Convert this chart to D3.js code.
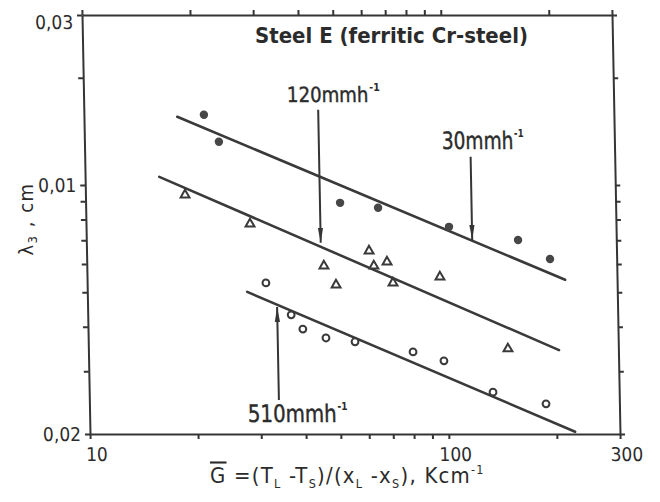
<!DOCTYPE html>
<html>
<head>
<meta charset="UTF-8">
<style>
  body { margin: 0; background: #ffffff; }
  svg { display: block; }
  text { font-family: "DejaVu Sans Condensed", "Liberation Sans Narrow", "DejaVu Sans", sans-serif; fill: #2b2b2b; }
  .axis path, .axis line { stroke: #353535; stroke-width: 2; }
  .fit { fill: none; stroke: #3a3a3a; stroke-width: 2.6; stroke-linecap: round; }
</style>
<title>Steel E lambda3 vs G</title>
</head>
<body>
<svg width="660" height="502"></svg>
<script src="https://cdn.jsdelivr.net/npm/d3@7/dist/d3.min.js"></script>
<script>

// tick values and labels (labels as printed)
let xTickVals = [10, 100, 300];
let xTickLabels = ["10", "100", "300"];
let xMinor = [20, 30, 40, 50, 60, 70, 80, 90, 200];
let yTickVals = [0.03, 0.01, 0.002];
let yTickLabels = ["0,03", "0,01", "0,02"];
let yMinor = [0.02, 0.009, 0.008, 0.007, 0.006, 0.005, 0.004, 0.003];

// 30 mm/h - filled circles
let g30 = [21.6, 23.7, 51.2, 65.3, 102.7, 159.7, 195.6];
let l30 = [0.01574, 0.01322, 0.00891, 0.00863, 0.00763, 0.00701, 0.00620];
// 120 mm/h - triangles
let g120 = [18.95, 28.65, 45.8, 49.4, 61.3, 63.1, 68.7, 71.2, 96.3, 147.7];
let l120 = [0.00938, 0.00778, 0.00593, 0.00524, 0.00653, 0.00593, 0.00608, 0.00531, 0.00552, 0.00347];
// 510 mm/h - open circles
let g510 = [31.5, 36.9, 39.7, 46.0, 55.4, 80.3, 97.8, 133.5, 187.3];
let l510 = [0.00531, 0.00432, 0.00394, 0.00372, 0.00363, 0.00340, 0.00321, 0.00262, 0.00243];

// fitted lines (end points)
let fitG30 = [18.2, 215], fitL30 = [0.01554, 0.00542];
let fitG120 = [16.1, 205], fitL120 = [0.01054, 0.00344];
let fitG510 = [27.9, 225], fitL510 = [0.00501, 0.00203];

// arrows and rate labels
let rateLabels = ["120mmh", "30mmh", "510mmh"];
let arrowG = [45, 119, 33.75];
let arrowFrom = [0.01626, 0.0120, 0.00249];
let arrowTo = [0.00688, 0.00701, 0.004548];
let labelG = [36.9, 99.1, 27.6];
let labelL = [0.01712, 0.01264, 0.002162];

let svg = d3.select("svg");

let x = d3.scaleLog().domain([10, 300]).range([90, 620]);
let y = d3.scaleLog().domain([0.002, 0.03]).range([434, 15]);

// the scanned frame leans slightly to the right at the bottom
let k = 8 / 419;
let plot = svg.append("g")
  .attr("transform", "matrix(1,0," + k + ",1," + (-k * 434) + ",0)");

// squeeze/stretch a text horizontally to a given width, keeping its left edge
function fitWidth(t, x0, w) {
  let s = w / t.node().getComputedTextLength();
  t.attr("transform", "translate(" + x0 + ",0) scale(" + s + ",1) translate(" + (-x0) + ",0)");
}

let defs = svg.append("defs");
defs.append("marker")
  .attr("id", "head")
  .attr("markerUnits", "userSpaceOnUse")
  .attr("markerWidth", 16).attr("markerHeight", 8)
  .attr("viewBox", "0 -4 16 8")
  .attr("refX", 15).attr("refY", 0)
  .attr("orient", "auto")
  .append("path")
  .attr("d", "M0,-2.6L15,0L0,2.6Z")
  .attr("fill", "#353535");

// axes: major + minor ticks, all outward
function drawAxis(axisFn, scale, vals, labels, tr, pad) {
  let g = plot.append("g").attr("class", "axis").attr("transform", tr);
  g.call(axisFn(scale).tickValues(vals.concat(axisFn === d3.axisBottom ? xMinor : yMinor))
    .tickSize(5).tickSizeOuter(0).tickPadding(pad)
    .tickFormat(d => {
      let i = vals.indexOf(d);
      return (labels && i >= 0) ? labels[i] : "";
    }));
  g.select(".domain").attr("stroke-width", 2.2);
  return g;
}

let gx = drawAxis(d3.axisBottom, x, xTickVals, xTickLabels, "translate(0,434)", 9);
gx.selectAll("text").attr("font-size", 19).attr("dx", 6).attr("fill", "#2b2b2b");
let gy = drawAxis(d3.axisLeft, y, yTickVals, yTickLabels, "translate(90,0)", 4);
gy.selectAll("text").attr("font-size", 19).attr("fill", "#2b2b2b");
gy.selectAll(".tick").filter(d => d === 0.03).select("text").attr("dy", "0.7em");

let topAxis = d3.axisTop(x).tickValues(xTickVals.concat(xMinor)).tickSize(5).tickSizeOuter(0).tickFormat("");
plot.append("g").attr("class", "axis").attr("transform", "translate(0,15)").call(topAxis);
let rightAxis = d3.axisRight(y).tickValues(yTickVals.concat(yMinor)).tickSize(5).tickSizeOuter(0).tickFormat("");
plot.append("g").attr("class", "axis").attr("transform", "translate(620,0)").call(rightAxis);

// fitted lines
let line = d3.line().x(d => x(d[0])).y(d => y(d[1]));
[[fitG30, fitL30], [fitG120, fitL120], [fitG510, fitL510]].forEach(f => {
  plot.append("path").attr("class", "fit").attr("d", line(d3.zip(f[0], f[1])));
});

// arrows
arrowG.forEach((g, i) => {
  plot.append("line")
    .attr("x1", x(g)).attr("y1", y(arrowFrom[i]))
    .attr("x2", x(g)).attr("y2", y(arrowTo[i]))
    .attr("stroke", "#353535").attr("stroke-width", 2)
    .attr("marker-end", "url(#head)");
});

// markers
plot.append("g").selectAll("circle")
  .data(d3.zip(g30, l30)).enter().append("circle")
  .attr("cx", d => x(d[0])).attr("cy", d => y(d[1]))
  .attr("r", 4.2).attr("fill", "#474747");

let tri = d3.symbol().type(d3.symbolTriangle).size(34);
plot.append("g").selectAll("path")
  .data(d3.zip(g120, l120)).enter().append("path")
  .attr("d", tri)
  .attr("transform", d => "translate(" + x(d[0]) + "," + y(d[1]) + ")")
  .attr("fill", "#ffffff").attr("stroke", "#3a3a3a").attr("stroke-width", 2);

plot.append("g").selectAll("circle")
  .data(d3.zip(g510, l510)).enter().append("circle")
  .attr("cx", d => x(d[0])).attr("cy", d => y(d[1]))
  .attr("r", 3.4).attr("fill", "#ffffff").attr("stroke", "#3a3a3a").attr("stroke-width", 2);

// rate labels, superscript as part of the same text
let labelWidth = [92, 81, 99], labelSize = [21, 24, 24];
rateLabels.forEach((t, i) => {
  let lx = x(labelG[i]), ly = y(labelL[i]);
  let lab = plot.append("text").attr("x", lx).attr("y", ly)
    .attr("font-size", labelSize[i]);
  lab.append("tspan").attr("stroke", "#2b2b2b").attr("stroke-width", 0.4).text(t);
  lab.append("tspan").attr("dx", 1).attr("dy", -labelSize[i] * 0.5)
    .attr("font-size", 11).attr("font-weight", "bold").text("-1");
  fitWidth(lab, lx, labelWidth[i]);
});

// title
svg.append("text").attr("x", 255).attr("y", 43)
  .attr("font-size", 21).attr("font-weight", "bold")
  .attr("textLength", 273).attr("lengthAdjust", "spacingAndGlyphs")
  .text("Steel E (ferritic Cr-steel)");

// y axis title
let yt = svg.append("text")
  .attr("transform", "translate(33,219) rotate(-90)")
  .attr("text-anchor", "middle").attr("font-size", 20)
  .attr("letter-spacing", 1.5);
yt.append("tspan").text("λ");
yt.append("tspan").attr("dy", 4).attr("font-size", 13).text("3");
yt.append("tspan").attr("dy", -4).text(" , cm");

// x axis title
let xt = svg.append("text").attr("x", 210).attr("y", 483).attr("font-size", 21)
  .attr("letter-spacing", 1.2);
xt.append("tspan").attr("text-decoration", "overline").text("G");
xt.append("tspan").text(" =(T");
xt.append("tspan").attr("dy", 5).attr("font-size", 12).text("L");
xt.append("tspan").attr("dy", -5).text(" -T");
xt.append("tspan").attr("dy", 5).attr("font-size", 12).text("S");
xt.append("tspan").attr("dy", -5).text(")/(x");
xt.append("tspan").attr("dy", 5).attr("font-size", 12).text("L");
xt.append("tspan").attr("dy", -5).text(" -x");
xt.append("tspan").attr("dy", 5).attr("font-size", 12).text("S");
xt.append("tspan").attr("dy", -5).text("), Kcm");
xt.append("tspan").attr("dy", -9).attr("font-size", 12).text("-1");
fitWidth(xt, 210, 275);

</script>
</body>
</html>
